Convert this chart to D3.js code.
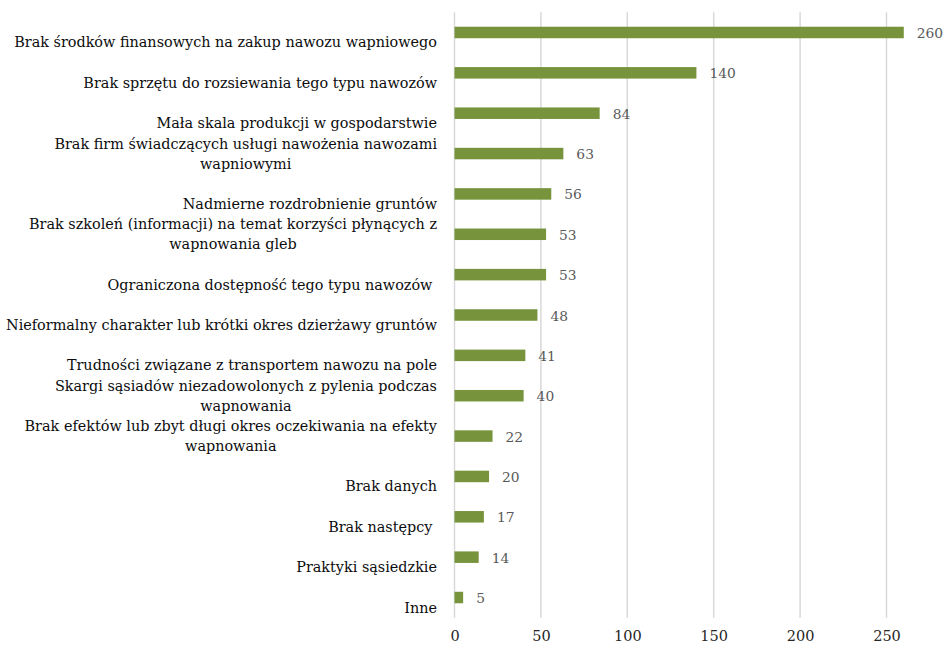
<!DOCTYPE html>
<html>
<head>
<meta charset="utf-8">
<script src="https://cdn.jsdelivr.net/npm/d3@7"></script>
<style>
  html, body { margin: 0; padding: 0; background: #fff; }
  svg { display: block; }
</style>
</head>
<body>
<svg id="chart" width="943" height="648"></svg>
<script>
const categories = [
  "Brak środków finansowych na zakup nawozu wapniowego",
  "Brak sprzętu do rozsiewania tego typu nawozów",
  "Mała skala produkcji w gospodarstwie",
  "Brak firm świadczących usługi nawożenia nawozami\nwapniowymi",
  "Nadmierne rozdrobnienie gruntów",
  "Brak szkoleń (informacji) na temat korzyści płynących z\nwapnowania gleb",
  "Ograniczona dostępność tego typu nawozów ",
  "Nieformalny charakter lub krótki okres dzierżawy gruntów",
  "Trudności związane z transportem nawozu na pole",
  "Skargi sąsiadów niezadowolonych z pylenia podczas\nwapnowania",
  "Brak efektów lub zbyt długi okres oczekiwania na efekty\nwapnowania",
  "Brak danych",
  "Brak następcy ",
  "Praktyki sąsiedzkie",
  "Inne"
];
const values = [260, 140, 84, 63, 56, 53, 53, 48, 41, 40, 22, 20, 17, 14, 5];
const xTicks = [0, 50, 100, 150, 200, 250];

const svg = d3.select("#chart");
const font = "'DejaVu Serif', serif";

const x = d3.scaleLinear().domain([0, 250]).range([454.5, 886.5]);
const y = d3.scaleBand().domain(categories).range([12.3, 617.7])
  .paddingInner(0.715).paddingOuter(0.3575);

// gridlines
svg.append("g").selectAll("line").data(xTicks).join("line")
  .attr("x1", d => x(d)).attr("x2", d => x(d))
  .attr("y1", 12.3).attr("y2", 617.7)
  .attr("stroke", "#d9d9d9").attr("stroke-width", 1.5);

// x axis tick labels
const xAxis = d3.axisBottom(x).tickValues(xTicks).tickSize(0).tickPadding(0);
const gx = svg.append("g").attr("transform", "translate(0,631)").call(xAxis);
gx.select(".domain").remove();
gx.selectAll("text")
  .attr("font-family", font).attr("font-size", 14.5).attr("fill", "#262626")
  .attr("dy", "0.71em");

// bars
svg.append("g").selectAll("rect").data(values).join("rect")
  .attr("x", x(0))
  .attr("y", (d, i) => y(categories[i]))
  .attr("width", d => x(d) - x(0))
  .attr("height", y.bandwidth())
  .attr("fill", "#77933c");

// value labels
svg.append("g").selectAll("text").data(values).join("text")
  .attr("x", d => x(d) + 13)
  .attr("y", (d, i) => y(categories[i]) + y.bandwidth() / 2 + 5.5)
  .attr("font-family", font).attr("font-size", 13.8).attr("fill", "#595959")
  .text(d => d);

// category labels
const labelRight = 437;
const lg = svg.append("g");
categories.forEach((c, i) => {
  const lines = c.split("\n");
  const cy = y(c) + y.bandwidth() / 2;
  const t = lg.append("text")
    .attr("font-family", font).attr("font-size", 14.4).attr("fill", "#0d0d0d")
    .style("white-space", "pre");
  const spans = lines.map((ln, j) => t.append("tspan")
    .attr("y", cy + 15 - (lines.length - 1 - j) * 20)
    .text(ln));
  const widths = spans.map(s => s.node().getComputedTextLength());
  const maxW = d3.max(widths);
  if (lines.length === 1) {
    spans[0].attr("x", labelRight).attr("text-anchor", "end");
  } else {
    spans.forEach(s => s.attr("x", labelRight - maxW / 2).attr("text-anchor", "middle"));
  }
});
</script>
</body>
</html>
